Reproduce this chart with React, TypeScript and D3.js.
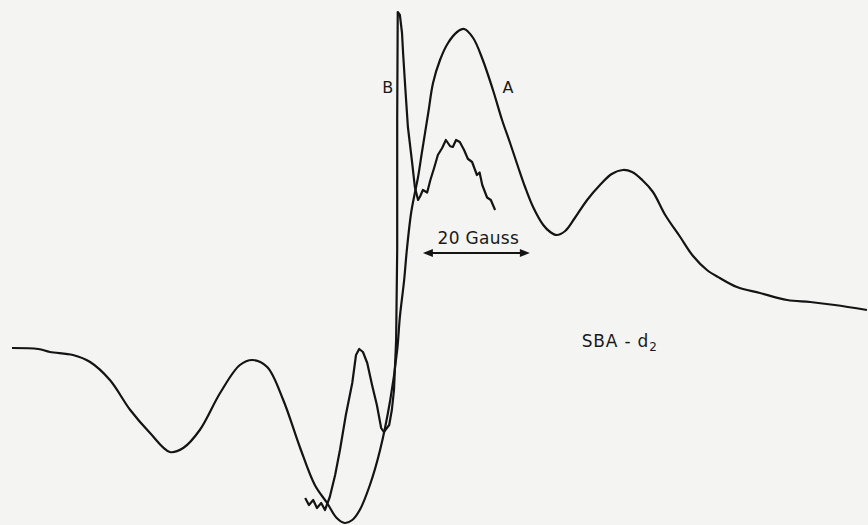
import React, { useEffect, useRef } from "react";
import * as d3 from "d3";

// field in Gauss (relative), signal in arbitrary units
const fieldA = [
  0, 4.9, 7.1, 11.4, 14.6, 18.3, 22.1, 25.8, 29.5, 32.0, 35.1, 38.9, 42.6, 45.0, 47.7, 50.7,
  53.8, 56.6, 58.9, 60.7, 62.2, 63.6, 65.0, 66.9, 68.8, 70.7, 72.0, 72.5, 73.3, 73.8, 74.6,
  75.3, 75.9, 76.6, 77.8, 78.7, 80.0, 81.5, 83.2, 84.5, 86.2, 88.0, 89.9, 91.6, 93.1, 94.6,
  95.9, 97.4, 99.3, 100.6, 101.8, 103.4, 105.2, 107.5, 109.9, 112.1, 114.2, 115.9,
  117.8, 119.8, 122.1, 124.9, 127.3, 129.9, 132.3, 135.5, 139.8, 144.9, 149.2, 153.8, 159.8,
];
const signalA = [
  -29.2, -29.6, -30.8, -32, -34.8, -42, -54, -63.2, -70.8, -69.2, -62, -47.2, -36, -34, -36.8, -50,
  -68.8, -84, -91.2, -97.2, -99.2, -98, -94, -84, -70, -50, -30, -16.8, -2, 10, 24.8,
  32.8, 39.2, 48.8, 64.8, 76.8, 86, 92.8, 97.2, 98.4, 94.8, 86, 74, 62, 52.8, 43.2,
  35.2, 27.2, 20, 17.2, 16, 17.6, 22.8, 30, 36, 40.4, 42, 41.2,
  38, 33.2, 24, 15.2, 7.6, 2, -1.2, -4.8, -7.2, -10, -10.8, -12, -14,
];

const fieldB = [
  54.8, 55.5, 56.3, 57.0, 57.8, 58.5, 59.4, 60.4, 61.3, 62.4, 63.6, 64.3, 64.9, 65.6, 66.4,
  67.3, 68.2, 69.0, 69.5, 70.5, 71.0, 71.4, 71.8, 72.0, 72.0, 72.1, 72.5, 72.9, 73.1, 73.5,
  74.0, 74.8, 75.3, 75.9, 76.3, 76.8, 77.6, 78.2, 78.9, 79.6, 80.4, 81.1, 81.9, 82.4, 83.0,
  83.7, 84.5, 85.2, 86.0, 86.9, 87.4, 87.9, 88.8, 89.5, 90.3,
];
const signalB = [
  -89.2, -92, -90, -93.2, -91.2, -94, -88.8, -80, -70, -56, -43.2, -32, -29.6, -30.8, -35.2,
  -44, -52, -61.2, -62.8, -60, -54, -46, -26, 10, 62, 105.2, 104, 96.8, 88.8, 75.2,
  59.2, 44.8, 35.2, 30, 31.5, 34, 33, 38, 42.8, 48, 50.8, 54, 51.5, 51.2, 54,
  53.2, 50, 46.5, 45.2, 40, 41, 36, 31, 30, 26,
];

const labels = [
  { text: "B", field: 69.2, signal: 73 },
  { text: "A", field: 91.7, signal: 73 },
];
const scaleText = "20 Gauss";
const scaleStart = 76.8;
const scaleLength = 20;
const scaleSignal = 8.8;
const sampleText = "SBA - d";
const sampleSub = "2";

const W = 868;
const H = 525;

export default function App() {
  const ref = useRef<SVGSVGElement>(null);

  useEffect(() => {
    const svg = d3.select(ref.current);
    svg.selectAll("*").remove();

    const x = d3.scaleLinear().domain([0, 160]).range([12, 868]);
    const y = d3.scaleLinear().domain([-100, 110]).range([525, 0]);

    svg.append("rect").attr("width", W).attr("height", H).attr("fill", "#f4f4f3");

    const lineSmooth = d3
      .line<number>()
      .x((d, i) => x(fieldA[i]))
      .y((d) => y(d))
      .curve(d3.curveCatmullRom);

    svg
      .append("path")
      .attr("d", lineSmooth(signalA))
      .attr("fill", "none")
      .attr("stroke", "#141414")
      .attr("stroke-width", 2.2)
      .attr("stroke-linejoin", "round");

    const lineB = d3
      .line<number>()
      .x((d, i) => x(fieldB[i]))
      .y((d) => y(d));

    svg
      .append("path")
      .attr("d", lineB(signalB))
      .attr("fill", "none")
      .attr("stroke", "#141414")
      .attr("stroke-width", 2.2)
      .attr("stroke-linejoin", "round");

    const font = "'DejaVu Sans', sans-serif";

    svg
      .selectAll("text.lbl")
      .data(labels)
      .enter()
      .append("text")
      .attr("class", "lbl")
      .attr("x", (d) => x(d.field))
      .attr("y", (d) => y(d.signal))
      .attr("font-family", font)
      .attr("font-size", 16)
      .attr("fill", "#1a1a1a")
      .text((d) => d.text);

    // scale bar
    const x0 = x(scaleStart);
    const x1 = x(scaleStart + scaleLength);
    const yb = y(scaleSignal);
    svg
      .append("line")
      .attr("x1", x0 + 4)
      .attr("x2", x1 - 4)
      .attr("y1", yb)
      .attr("y2", yb)
      .attr("stroke", "#141414")
      .attr("stroke-width", 2);
    svg
      .append("path")
      .attr("d", `M${x0},${yb}L${x0 + 10},${yb - 4}L${x0 + 10},${yb + 4}Z`)
      .attr("fill", "#141414");
    svg
      .append("path")
      .attr("d", `M${x1},${yb}L${x1 - 10},${yb - 4}L${x1 - 10},${yb + 4}Z`)
      .attr("fill", "#141414");
    svg
      .append("text")
      .attr("x", (x0 + x1) / 2 + 2)
      .attr("y", yb - 9)
      .attr("text-anchor", "middle")
      .attr("font-family", font)
      .attr("font-size", 17)
      .attr("letter-spacing", 0.3)
      .attr("fill", "#1a1a1a")
      .text(scaleText);

    const t = svg
      .append("text")
      .attr("x", x(106.5))
      .attr("y", y(-28.8))
      .attr("font-family", font)
      .attr("font-size", 17)
      .attr("letter-spacing", 0.8)
      .attr("fill", "#1a1a1a")
      .text(sampleText);
    t.append("tspan")
      .attr("font-size", 12)
      .attr("dy", 4)
      .text(sampleSub);
  }, []);

  return (
    <svg
      ref={ref}
      width={W}
      height={H}
      style={{ position: "absolute", left: 0, top: 0, display: "block" }}
    />
  );
}
